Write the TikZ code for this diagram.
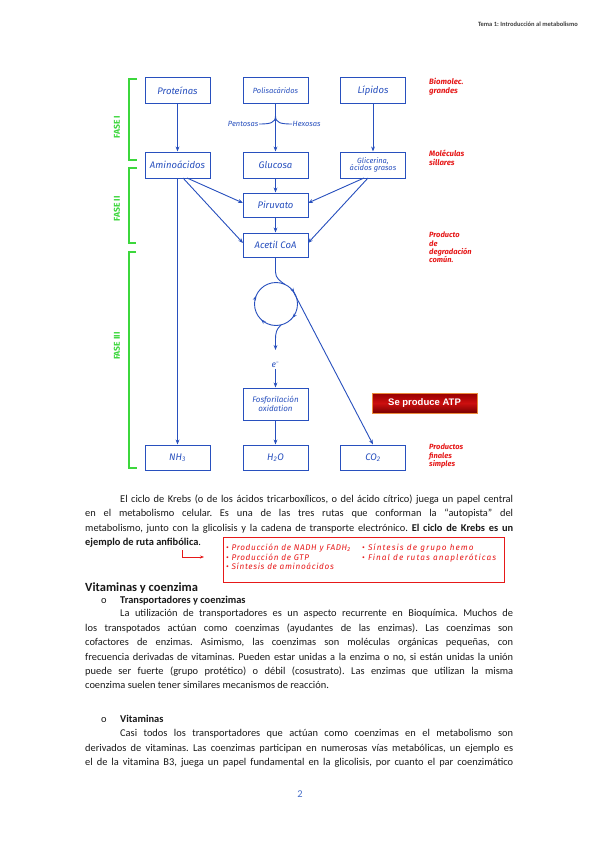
\documentclass[tikz,border=0pt]{standalone}
\usepackage{fontspec}
\setmainfont{Carlito}
\newfontfamily\hand{Fira Sans}
\newfontfamily\handw{Fira Sans}[LetterSpace=8]
\newfontfamily\handww{Fira Sans}[LetterSpace=13]
\newfontfamily\arialf{Liberation Sans}
\usetikzlibrary{arrows.meta,decorations.markings}
\definecolor{dblue}{RGB}{40,80,190}
\definecolor{hred}{RGB}{230,25,25}
\definecolor{fgreen}{RGB}{60,215,60}
\definecolor{txt}{RGB}{25,25,25}
\definecolor{numblue}{RGB}{70,110,200}
\frenchspacing
\tikzset{
  box/.style={draw=dblue, line width=1pt, minimum width=65pt, minimum height=26pt, inner sep=1pt,
    font=\hand\itshape\fontsize{9.5}{10}\selectfont, text=dblue, align=center},
  arr/.style={draw=dblue, line width=0.9pt, -{Stealth[length=5pt,width=3.8pt]}},
  ln/.style={draw=dblue, line width=0.9pt},
  hsmall/.style={text=dblue, font=\hand\itshape\fontsize{7.5}{8}\selectfont, inner sep=0.5pt},
  lbl/.style={text=hred, font=\hand\bfseries\itshape\fontsize{7.8}{8.5}\selectfont, align=left, anchor=north west, inner sep=0},
  fase/.style={draw=fgreen, line width=1.1pt},
  fasetxt/.style={rotate=90, text=fgreen, font=\hand\bfseries\fontsize{8.5}{9}\selectfont, inner sep=0},
  body/.style={anchor=base west, inner sep=0, font=\fontsize{10.4}{12}\selectfont, text=txt},
  redtxt/.style={anchor=base west, inner sep=0, text=hred, font=\handw\itshape\fontsize{8.2}{9}\selectfont},
  redtxtw/.style={anchor=base west, inner sep=0, text=hred, font=\handww\itshape\fontsize{8.2}{9}\selectfont},
}
\begin{document}
\begin{tikzpicture}[x=1pt,y=-1pt]
\useasboundingbox (0,0) rectangle (599,848);
\fill[white] (0,0) rectangle (599,848);

% header
\node[anchor=base east, inner sep=0, font=\bfseries\fontsize{6.5}{8}\selectfont, text=black!75] (hdr) at (578,27) {Tema 1: Introducción al metabolismo};

% boxes
\node[box] (prot) at (177.5,91) {Proteínas};
\node[box, font=\hand\itshape\fontsize{7.5}{8}\selectfont] (poli) at (275.5,91) {Polisacáridos};
\node[box] (lip) at (373,91) {Lípidos};
\node[box] (amino) at (177.5,165) {Aminoácidos};
\node[box] (gluc) at (275.5,165) {Glucosa};
\node[box, font=\hand\itshape\fontsize{7.5}{7.5}\selectfont] (glic) at (373,165) {Glicerina,\\ácidos grasos};
\node[box, minimum height=24pt] (piru) at (275.5,205) {Piruvato};
\node[box, minimum height=24pt] (acet) at (275.5,245) {Acetil CoA};
\node[box, minimum height=32pt, font=\hand\itshape\fontsize{8}{9}\selectfont] (fosf) at (275.5,404) {Fosforilación\\oxidation};
\node[box, minimum height=25pt] (nh3) at (177.5,457.5) {NH\textsubscript{3}};
\node[box, minimum height=25pt] (h2o) at (275.5,457.5) {H\textsubscript{2}O};
\node[box, minimum height=25pt] (co2) at (373,457.5) {CO\textsubscript{2}};

% pentosas / hexosas
\node[hsmall, anchor=east] (pent) at (259,124) {Pentosas};
\node[hsmall, anchor=west] (hex) at (292,124) {Hexosas};
\coordinate (jn) at (275.5,116);
\draw[ln] (pent.east) .. controls (270,124) and (275.5,123) .. (jn);
\draw[ln] (hex.west) .. controls (281,124) and (275.5,123) .. (jn);

% vertical arrows
\draw[arr] (prot.south) -- (amino.north);
\draw[arr] (poli.south) -- (gluc.north);
\draw[arr] (lip.south) -- (glic.north);
\draw[arr] (gluc.south) -- (piru.north);
\draw[arr] (piru.south) -- (acet.north);
\draw[arr] (amino.south) -- (nh3.north);
\draw[arr] (fosf.south) -- (h2o.north);

% diagonal arrows
\coordinate (a1) at (187,178);
\coordinate (a2) at (183,178);
\coordinate (g1) at (364,178);
\coordinate (g2) at (368,178);
\coordinate (pw) at (243,203);
\coordinate (pe) at (308,203);
\coordinate (aw) at (243,243);
\coordinate (ae) at (308,243);
\draw[arr] (a1) -- (pw);
\draw[arr] (a2) -- (aw);
\draw[arr] (g1) -- (pe);
\draw[arr] (g2) -- (ae);

% Krebs cycle
\coordinate (cc) at (276,304);
\draw[ln, postaction={decorate}, decoration={markings,
  mark=at position 0.09 with {\arrowreversed{Stealth[length=4.5pt,width=3.5pt]}},
  mark=at position 0.44 with {\arrowreversed{Stealth[length=4.5pt,width=3.5pt]}},
  mark=at position 0.63 with {\arrowreversed{Stealth[length=4.5pt,width=3.5pt]}},
  mark=at position 0.89 with {\arrowreversed{Stealth[length=4.5pt,width=3.5pt]}}}]
  (cc) circle[radius=21.5pt];
\coordinate (cin) at (285,284.5);
\draw[ln] (acet.south) -- (275.5,272) .. controls (275.5,278) and (280,281) .. (cin);
\coordinate (cout) at (292.5,290);
\draw[arr] (cout) -- (co2.north);
\coordinate (cbot) at (281,325);
\node[text=dblue, font=\hand\itshape\fontsize{8.5}{9}\selectfont, inner sep=1pt] (el) at (275.5,365) {e\textsuperscript{−}};
\draw[arr] (cbot) .. controls (276.5,329) and (275.5,333) .. (275.5,339) -- (275.5,350);
\draw[arr] (el.south) -- (fosf.north);

% fases
\draw[fase] (137,79) -- (129,79) -- (129,160) -- (137,160);
\draw[fase] (137,168) -- (129,168) -- (129,243) -- (136,243);
\draw[fase] (136,252) -- (129,252) -- (129,468) -- (137,468);
\node[fasetxt] (f1) at (117,127) {FASE I};
\node[fasetxt] (f2) at (117,209) {FASE II};
\node[fasetxt] (f3) at (117,346) {FASE III};

% red labels
\node[lbl] (r1) at (429,78) {Biomolec.\\grandes};
\node[lbl] (r2) at (429,150) {Moléculas\\sillares};
\node[lbl, font=\hand\bfseries\itshape\fontsize{7.5}{8.2}\selectfont] (r3) at (429,232) {Producto\\de\\degradación\\común.};
\node[lbl, font=\hand\bfseries\itshape\fontsize{7.5}{8.4}\selectfont] (r4) at (429,444) {Productos\\finales\\simples};

% ATP
\node[minimum width=105pt, minimum height=20pt, draw={rgb,255:red,235;green,140;blue,60}, line width=0.7pt,
  top color={rgb,255:red,150;green,0;blue,0}, bottom color={rgb,255:red,120;green,0;blue,0},
  middle color={rgb,255:red,205;green,15;blue,15},
  text=white, font=\arialf\bfseries\fontsize{9.5}{10}\selectfont] (atp) at (424.5,403) {Se produce ATP};

% body text 1
\node[body] (t1) at (120,502) {\makebox[393pt][s]{El ciclo de Krebs (o de los ácidos tricarboxílicos, o del ácido cítrico) juega un papel central}};
\node[body] (t2) at (85,516.5) {\makebox[428pt][s]{en el metabolismo celular. Es una de las tres rutas que conforman la “autopista” del}};
\node[body] (t3) at (85,531) {\makebox[428pt][s]{metabolismo, junto con la glicolisis y la cadena de transporte electrónico. \bfseries El ciclo de Krebs es un}};
\node[body] (t4) at (85,545.5) {\textbf{ejemplo de ruta anfibólica}.};

% red box
\node[draw=hred, line width=1.6pt, minimum width=281pt, minimum height=45pt, inner sep=0] (rbox) at (364,560) {};
\node[redtxt] (i1) at (226,550.5) {• Producción de NADH y FADH\textsubscript{2}};
\node[redtxt] (i2) at (226,560) {• Producción de GTP};
\node[redtxt] (i3) at (226,569.5) {• Síntesis de aminoácidos};
\node[redtxtw] (i4) at (362,550.5) {• Síntesis de grupo hemo};
\node[redtxtw] (i5) at (362,560) {• Final de rutas anapleróticas};
\coordinate (hk1) at (182,550);
\coordinate (hk2) at (204,557);
\draw[hred, line width=0.8pt, -{Stealth[length=4pt,width=3pt]}] (hk1) |- (hk2);

% section
\node[body, font=\bfseries\fontsize{12.5}{14}\selectfont] (sec) at (85,591) {Vitaminas y coenzima};
\node[body] (b1) at (101,603.5) {o};
\node[body, font=\bfseries\fontsize{10.4}{12}\selectfont] (s1) at (120,603.5) {Transportadores y coenzimas};
\node[body] (p1) at (120,616.5) {\makebox[393pt][s]{La utilización de transportadores es un aspecto recurrente en Bioquímica. Muchos de}};
\node[body] (p2) at (85,631) {\makebox[428pt][s]{los transpotados actúan como coenzimas (ayudantes de las enzimas). Las coenzimas son}};
\node[body] (p3) at (85,645.5) {\makebox[428pt][s]{cofactores de enzimas. Asimismo, las coenzimas son moléculas orgánicas pequeñas, con}};
\node[body] (p4) at (85,660) {\makebox[428pt][s]{frecuencia derivadas de vitaminas. Pueden estar unidas a la enzima o no, si están unidas la unión}};
\node[body] (p5) at (85,674) {\makebox[428pt][s]{puede ser fuerte (grupo protético) o débil (cosustrato). Las enzimas que utilizan la misma}};
\node[body] (p6) at (85,688) {coenzima suelen tener similares mecanismos de reacción.};

\node[body] (b2) at (101,722.5) {o};
\node[body, font=\bfseries\fontsize{10.4}{12}\selectfont] (s2) at (120,722.5) {Vitaminas};
\node[body] (q1) at (120,736.5) {\makebox[393pt][s]{Casi todos los transportadores que actúan como coenzimas en el metabolismo son}};
\node[body] (q2) at (85,751) {\makebox[428pt][s]{derivados de vitaminas. Las coenzimas participan en numerosas vías metabólicas, un ejemplo es}};
\node[body] (q3) at (85,765.5) {\makebox[428pt][s]{el de la vitamina B3, juega un papel fundamental en la glicolisis, por cuanto el par coenzimático}};

\node[body, anchor=base, text=numblue] (pg) at (300,797) {2};
\end{tikzpicture}
\end{document}
